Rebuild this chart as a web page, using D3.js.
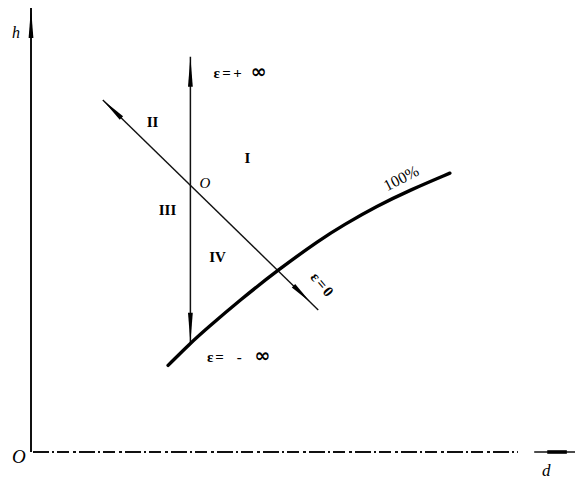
<!DOCTYPE html>
<html>
<head>
<meta charset="utf-8">
<script src="https://cdn.jsdelivr.net/npm/d3@7/dist/d3.min.js"></script>
<style>
  html, body { margin: 0; padding: 0; background: #fff; }
  svg { display: block; }
  text { font-family: "Liberation Serif", "DejaVu Serif", serif; fill: #000; }
</style>
</head>
<body>
<svg id="chart" width="578" height="479"></svg>
<script>
// Saturation curve (100%) in the d–h plane
const curveD = [25.2, 29.2, 32.4, 38.4, 45.4, 53.1, 57.4, 63.6, 69.7, 77.0];
const curveH = [19.5, 24.4, 27.9, 34.2, 41.0, 47.8, 51.1, 55.4, 59.0, 62.8];

// State point O and the two process directions through it
const pointO = [29.3, 60.4];          // [d, h]
const verticalH = [89.0, 24.6];       // h range of the ε = ±∞ line
const diagonalD = [13.2, 52.8];       // d range of the ε = 0 line
const diagonalH = [79.3, 32.0];       // h range of the ε = 0 line

// Axis extents
const dDomain = [0, 100];
const hDomain = [0, 100];
const axisLabels = ["h", "d", "O"];
const regionLabels = ["I", "II", "III", "IV"];
const epsLabels = [["ε=+ ", "∞"], ["ε=  -  ", "∞"], ["ε=0", ""]];
const curveLabel = "100%";

const svg = d3.select("#chart");
const x = d3.scaleLinear().domain(dDomain).range([31, 575]);
const y = d3.scaleLinear().domain(hDomain).range([452, 8]);

// narrow spike arrowhead: tip at (tx,ty), pointing along angle ang
function spike(tx, ty, ang, len, hw) {
  const bx = tx - Math.cos(ang) * len, by = ty - Math.sin(ang) * len;
  const nx = -Math.sin(ang) * hw, ny = Math.cos(ang) * hw;
  return `M${tx},${ty}L${bx + nx},${by + ny}L${bx - nx},${by - ny}Z`;
}

// --- axes ---
// h axis (vertical, solid)
svg.append("line")
  .attr("x1", x(0)).attr("x2", x(0))
  .attr("y1", y(0)).attr("y2", y(hDomain[1]))
  .attr("stroke", "#111").attr("stroke-width", 2);
svg.append("path")
  .attr("d", spike(x(0), y(hDomain[1]), -Math.PI / 2, 30, 2.4))
  .attr("fill", "#000");

// d axis (dash-dot, then a solid arrow piece at the end)
svg.append("line")
  .attr("x1", x(0) + 2).attr("x2", x(89.5))
  .attr("y1", y(0)).attr("y2", y(0))
  .attr("stroke", "#111").attr("stroke-width", 1.8)
  .attr("stroke-dasharray", "16 3 2 3 12 4 3 3");
svg.append("line")
  .attr("x1", x(92.5)).attr("x2", x(100))
  .attr("y1", y(0)).attr("y2", y(0))
  .attr("stroke", "#111").attr("stroke-width", 1.6);
svg.append("line")
  .attr("x1", x(94.9)).attr("x2", x(98.5))
  .attr("y1", y(0)).attr("y2", y(0))
  .attr("stroke", "#000").attr("stroke-width", 3.6);

// --- ε = ±∞ vertical line through O ---
const vx = x(pointO[0]);
svg.append("line")
  .attr("x1", vx).attr("x2", vx)
  .attr("y1", y(verticalH[0])).attr("y2", y(verticalH[1]))
  .attr("stroke", "#111").attr("stroke-width", 1.5);
svg.append("path")
  .attr("d", spike(vx, y(verticalH[0]), -Math.PI / 2, 30, 2.4))
  .attr("fill", "#000");
svg.append("path")
  .attr("d", spike(vx, y(verticalH[1]), Math.PI / 2, 30, 2.4))
  .attr("fill", "#000");

// --- ε = 0 diagonal line through O ---
const p0 = [x(diagonalD[0]), y(diagonalH[0])];
const p1 = [x(diagonalD[1]), y(diagonalH[1])];
const dAng = Math.atan2(p1[1] - p0[1], p1[0] - p0[0]);
svg.append("line")
  .attr("x1", p0[0]).attr("y1", p0[1])
  .attr("x2", p1[0]).attr("y2", p1[1])
  .attr("stroke", "#111").attr("stroke-width", 1.4);
// arrow at the upper-left end
svg.append("path")
  .attr("d", spike(p0[0], p0[1], dAng + Math.PI, 26, 2.4))
  .attr("fill", "#000");
// arrow a little before the lower-right end
const t = 0.965;
const ax = p0[0] + (p1[0] - p0[0]) * t, ay = p0[1] + (p1[1] - p0[1]) * t;
svg.append("path")
  .attr("d", spike(ax, ay, dAng, 24, 2.4))
  .attr("fill", "#000");

// --- 100% curve ---
const curvePts = curveD.map((d, i) => [d, curveH[i]]);
svg.append("path")
  .datum(curvePts)
  .attr("d", d3.line().x(p => x(p[0])).y(p => y(p[1])).curve(d3.curveBasis))
  .attr("fill", "none")
  .attr("stroke", "#000").attr("stroke-width", 3.4)
  .attr("stroke-linecap", "round");

// --- labels ---
// axis labels
svg.append("text").text(axisLabels[0])
  .attr("x", x(0) - 19).attr("y", 38)
  .attr("font-size", 16).attr("font-style", "italic");
svg.append("text").text(axisLabels[1])
  .attr("x", 542).attr("y", 476)
  .attr("font-size", 17).attr("font-style", "italic");
svg.append("text").text(axisLabels[2])
  .attr("x", 12).attr("y", 463)
  .attr("font-size", 19).attr("font-style", "italic");

// point O
svg.append("text").text("O")
  .attr("x", vx + 9).attr("y", y(pointO[1]) + 4)
  .attr("font-size", 15).attr("font-style", "italic");

// region numerals
const regionPos = [[247.5, 163], [152.5, 127], [167.5, 215], [217.5, 262]];
regionLabels.forEach((lab, i) => {
  svg.append("text").text(lab)
    .attr("x", regionPos[i][0]).attr("y", regionPos[i][1])
    .attr("text-anchor", "middle")
    .attr("font-size", 15).attr("font-weight", "bold");
});

// ε labels (the ∞ sign set a little larger)
function epsText(parts, xPos, yPos, spacing) {
  const tx = svg.append("text")
    .attr("x", xPos).attr("y", yPos)
    .attr("font-size", 15).attr("font-weight", "bold")
    .style("white-space", "pre");
  tx.append("tspan").text(parts[0]).attr("letter-spacing", spacing);
  tx.append("tspan").text(parts[1]).attr("font-size", 19)
    .attr("font-family", "DejaVu Sans");
  return tx;
}
epsText(epsLabels[0], vx + 23, 78, 2.5);
epsText(epsLabels[1], 207, 362, 1.8);
svg.append("text").text(epsLabels[2][0])
  .attr("text-anchor", "middle")
  .attr("font-size", 15).attr("font-weight", "bold")
  .attr("letter-spacing", 2)
  .attr("transform", `translate(323,285) rotate(50)`)
  .attr("dy", "0.35em");

// curve label
svg.append("text").text(curveLabel)
  .attr("text-anchor", "middle")
  .attr("font-size", 16)
  .attr("transform", `translate(401,178) rotate(-27)`)
  .attr("dy", "0.35em");
</script>
</body>
</html>
